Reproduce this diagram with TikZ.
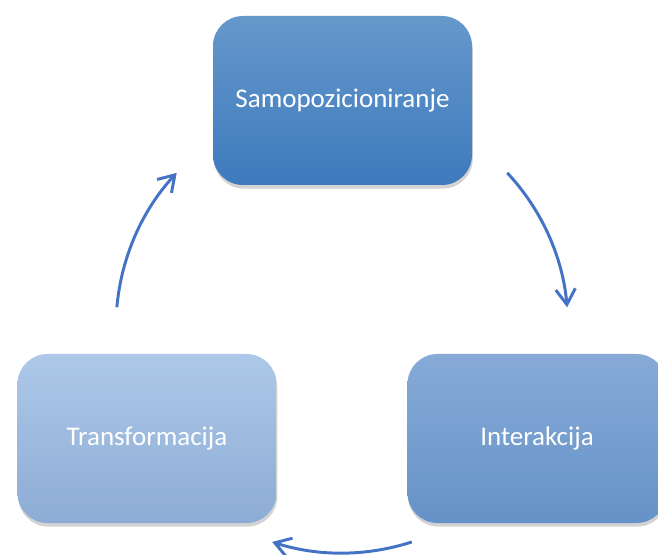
\documentclass[tikz,border=0pt]{standalone}
\usepackage{fontspec}
\setmainfont{Carlito}
\usepackage{tikz}
\usetikzlibrary{arrows.meta}
\usetikzlibrary{shadows}
\usepackage{xcolor}

\definecolor{arrowblue}{HTML}{4472C4}
\definecolor{samotop}{HTML}{6698CB}
\definecolor{samobot}{HTML}{3D7ABD}
\definecolor{transtop}{HTML}{ADC8E8}
\definecolor{transbot}{HTML}{8DACD5}
\definecolor{intertop}{HTML}{87AAD7}
\definecolor{interbot}{HTML}{6593C7}

\begin{document}
\begin{tikzpicture}[
	phase/.style={rectangle, rounded corners=0.75cm, minimum width=6.475cm, minimum height=4.225cm,
		inner sep=0pt, text=white, font=\fontsize{19.2}{23}\selectfont,
		drop shadow={opacity=0.35, shadow xshift=0.02cm, shadow yshift=-0.09cm}},
	cycle arrow/.style={-{Straight Barb[length=11pt,width=14pt]}, line width=2.1pt, arrowblue}]
	\useasboundingbox (0,0) rectangle (16.45,13.85);
	\node [phase, top color=samotop, bottom color=samobot] (samo) at (8.5625, 11.3375) {Samopozicioniranje};
	\node [phase, top color=intertop, bottom color=interbot] (inter) at (13.425, 2.8875) {Interakcija};
	\node [phase, top color=transtop, bottom color=transbot] (trans) at (3.675, 2.8875) {Transformacija};
	\coordinate (center) at (8.55, 5.675);
	\coordinate (samoout) at ([shift={(43:5.65)}]center);
	\coordinate (interout) at ([shift={(-72:5.65)}]center);
	\coordinate (transout) at ([shift={(175:5.65)}]center);
	\draw [cycle arrow] (samoout) arc [start angle=43, end angle=5, radius=5.65];
	\draw [cycle arrow] (interout) arc [start angle=-72, end angle=-108, radius=5.65];
	\draw [cycle arrow] (transout) arc [start angle=175, end angle=137, radius=5.65];
\end{tikzpicture}
\end{document}
